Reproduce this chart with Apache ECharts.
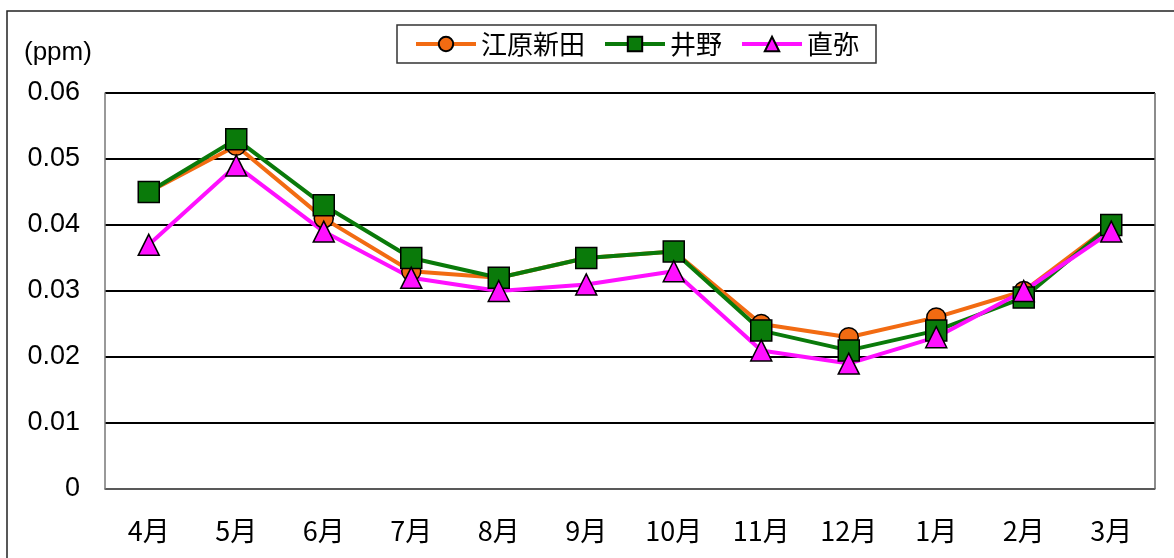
<!DOCTYPE html>
<html>
<head>
<meta charset="utf-8">
<script src="https://cdn.jsdelivr.net/npm/echarts@6/dist/echarts.min.js"></script>
<style>
  html, body { margin: 0; padding: 0; background: #fff; }
  #chart { width: 1174px; height: 558px; }
</style>
</head>
<body>
<div id="chart"></div>
<script>
// Monthly averages (ppm) at three monitoring stations
const months = ['4月', '5月', '6月', '7月', '8月', '9月', '10月', '11月', '12月', '1月', '2月', '3月'];
const eharaShinden = [0.045, 0.052, 0.041, 0.033, 0.032, 0.035, 0.036, 0.025, 0.023, 0.026, 0.030, 0.040];
const ino = [0.045, 0.053, 0.043, 0.035, 0.032, 0.035, 0.036, 0.024, 0.021, 0.024, 0.029, 0.040];
const nao = [0.037, 0.049, 0.039, 0.032, 0.030, 0.031, 0.033, 0.021, 0.019, 0.023, 0.030, 0.039];
const yTicks = ['0', '0.01', '0.02', '0.03', '0.04', '0.05', '0.06'];

const cjk = '"Noto Sans CJK JP", sans-serif';
const latin = '"Liberation Sans", Arial, sans-serif';
const chart = echarts.init(document.getElementById('chart'), null, { renderer: 'canvas' });

function lineSeries(name, data, color, symbol, size) {
  return {
    name, type: 'line', data,
    symbol, symbolSize: size,
    lineStyle: { color, width: 4 },
    itemStyle: { color, borderColor: '#000', borderWidth: 1.5 },
    emphasis: { disabled: true },
    z: 2
  };
}

chart.setOption({
  animation: false,
  backgroundColor: '#fff',
  grid: { left: 105, top: 93, right: 19, bottom: 69 },
  legend: {
    top: 25, left: 397,
    itemWidth: 60, itemHeight: 18, itemGap: 18,
    padding: [6, 17, 6, 17],
    borderColor: '#333', borderWidth: 1.5, borderRadius: 0,
    lineStyle: { width: 4 },
    textStyle: { fontSize: 26, color: '#000', fontFamily: cjk },
    data: ['江原新田', '井野', '直弥']
  },
  graphic: [
    { type: 'rect', shape: { x: 7, y: 11, width: 1200, height: 600 },
      style: { fill: 'none', stroke: '#222', lineWidth: 1.5 }, z: 0, silent: true },
    { type: 'text', left: 24, top: 40,
      style: { text: '(ppm)', font: '26px ' + latin, fill: '#000' } },
    // right edge of the plot frame
    { type: 'line', shape: { x1: 1155, y1: 93, x2: 1155, y2: 489 },
      style: { stroke: '#666', lineWidth: 1.5 }, z: 1 }
  ],
  xAxis: {
    type: 'category', data: months, boundaryGap: true,
    axisLine: { lineStyle: { color: '#777', width: 1.5 } },
    axisTick: { inside: true, length: 9, lineStyle: { color: '#555', width: 1 } },
    axisLabel: { fontSize: 27, color: '#000', margin: 28, fontFamily: cjk }
  },
  yAxis: {
    type: 'value', min: 0, max: 0.06, interval: 0.01,
    axisLine: { show: true, lineStyle: { color: '#777', width: 1.5 } },
    axisTick: { show: false },
    splitLine: { lineStyle: { color: '#000', width: 2 } },
    axisLabel: {
      fontSize: 27, color: '#000', margin: 25, fontFamily: latin,
      formatter: (v) => yTicks[Math.round(v * 100)]
    }
  },
  series: [
    lineSeries('江原新田', eharaShinden, '#F26B12', 'circle', 19),
    lineSeries('井野', ino, '#0A7A0A', 'rect', 21),
    lineSeries('直弥', nao, '#FF10FF', 'triangle', 21)
  ]
});
</script>
</body>
</html>
